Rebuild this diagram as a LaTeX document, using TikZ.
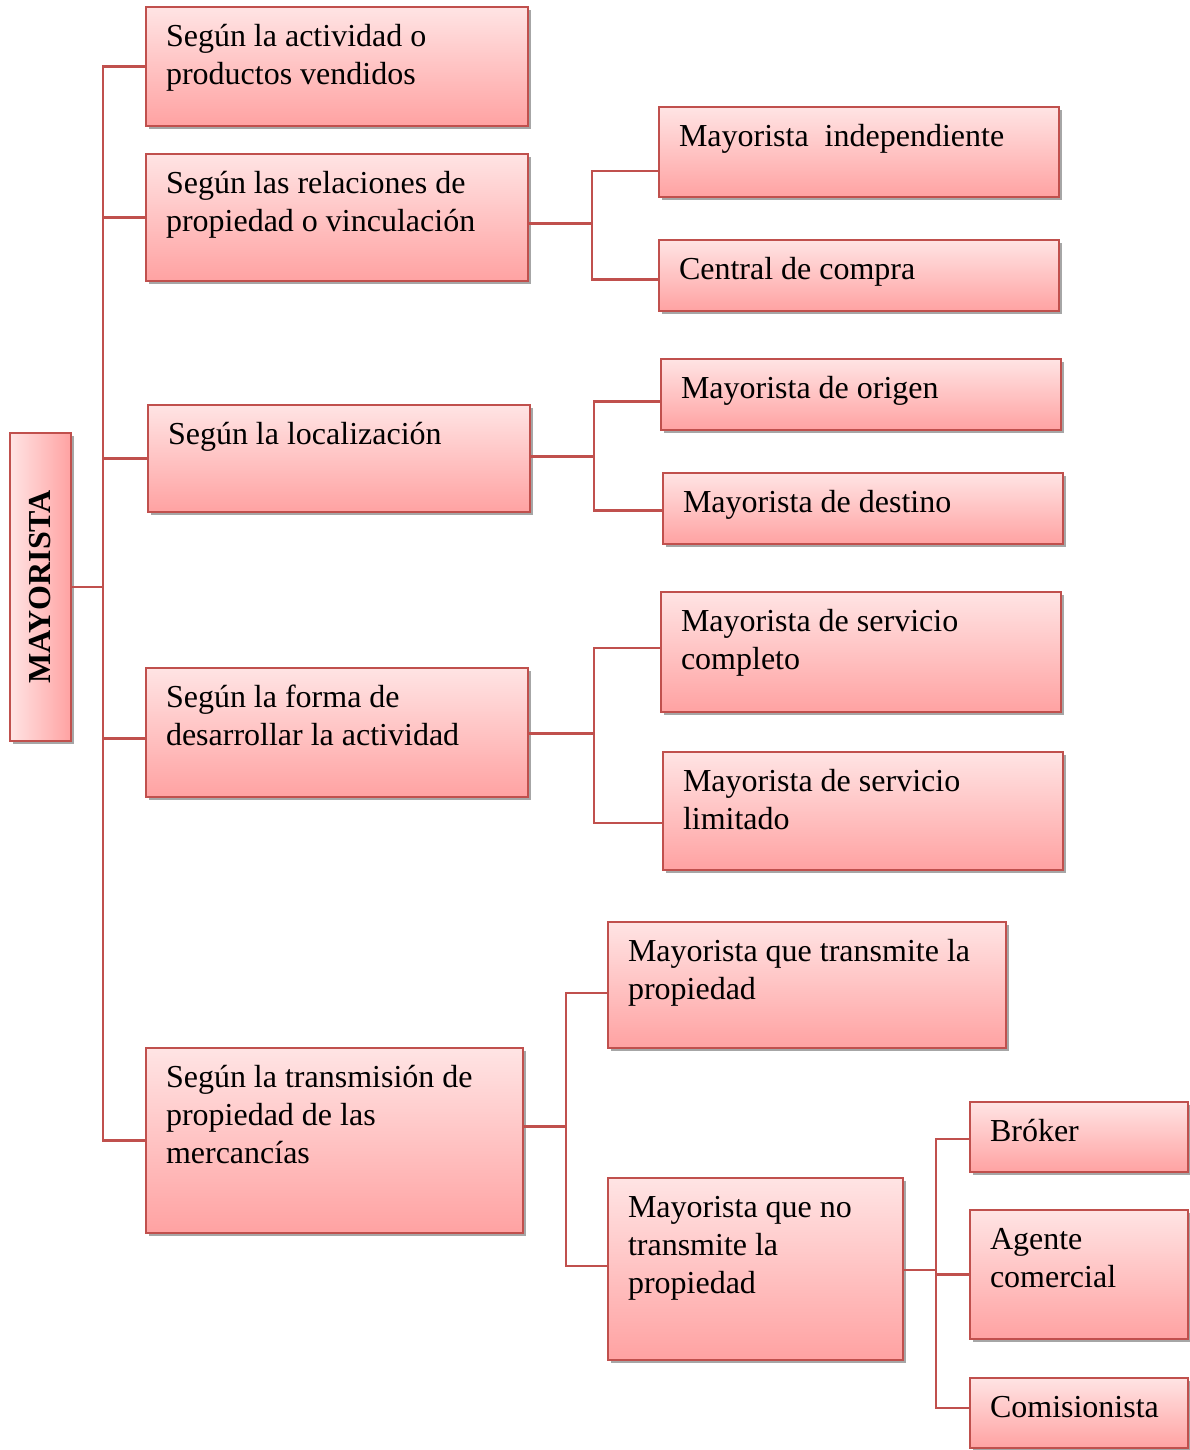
\documentclass[tikz,border=0pt]{standalone}
\usepackage{fontspec}
\setmainfont{Liberation Serif}
\usepackage{graphicx}
\usetikzlibrary{shadows}
\definecolor{bord}{HTML}{C0504D}
\definecolor{topc}{RGB}{255,228,228}
\definecolor{botc}{RGB}{255,162,162}
\newcommand\bxt[3]{\parbox[b][#2][t]{#1}{\fontsize{16}{19}\selectfont\leftskip=10pt\rightskip=0pt plus 1fil\vspace*{6.5pt}\strut #3}}
\tikzset{
  base/.style={draw=bord, line width=1pt, inner sep=0pt, anchor=north west,
    drop shadow={shadow xshift=1.3pt, shadow yshift=-1.5pt, fill=black, opacity=0.35}},
  box/.style={base, top color=topc, bottom color=botc},
  conn/.style={draw=bord, line width=1.1pt}
}
\begin{document}
\begin{tikzpicture}[x=0.5pt, y=-0.5pt]
\useasboundingbox (0,0) rectangle (1189,1450);
% root
\node[base, left color=topc, right color=botc, minimum width=30.5pt, minimum height=154pt] (M) at (9,432)
  {\rotatebox{90}{\fontsize{16}{19}\selectfont\bfseries MAYORISTA}};
% level 1
\node[box] (b1) at (145,6)    {\bxt{191pt}{59.5pt}{Según la actividad o\\productos vendidos}};
\node[box] (b2) at (145,153)  {\bxt{191pt}{63.5pt}{Según las relaciones de\\propiedad o vinculación}};
\node[box] (b3) at (147,404)  {\bxt{191pt}{53.5pt}{Según la localización}};
\node[box] (b4) at (145,667)  {\bxt{191pt}{64.5pt}{Según la forma de\\desarrollar la actividad}};
\node[box] (b5) at (145,1047) {\bxt{188.5pt}{92.5pt}{Según la transmisión de\\propiedad de las\\mercancías}};
% level 2
\node[box] (r1) at (658,106)  {\bxt{200pt}{45pt}{Mayorista\ \ independiente}};
\node[box] (r2) at (658,239)  {\bxt{200pt}{35.5pt}{Central de compra}};
\node[box] (r3) at (660,358)  {\bxt{200pt}{35.5pt}{Mayorista de origen}};
\node[box] (r4) at (662,472)  {\bxt{200pt}{35.5pt}{Mayorista de destino}};
\node[box] (r5) at (660,591)  {\bxt{200pt}{60pt}{Mayorista de servicio\\completo}};
\node[box] (r6) at (662,751)  {\bxt{200pt}{59pt}{Mayorista de servicio\\limitado}};
\node[box] (r7) at (607,921)  {\bxt{199pt}{63pt}{Mayorista que transmite la\\propiedad}};
\node[box] (r8) at (607,1177) {\bxt{147.5pt}{91pt}{Mayorista que no\\transmite la\\propiedad}};
% level 3
\node[box] (s1) at (969,1101) {\bxt{109pt}{35pt}{Bróker}};
\node[box] (s2) at (969,1209) {\bxt{109pt}{64.5pt}{Agente\\comercial}};
\node[box] (s3) at (969,1377) {\bxt{109pt}{35pt}{Comisionista}};
% connection points
\coordinate (v0) at (103,0);
\coordinate (v2) at (592,0);
\coordinate (v3) at (594,0);
\coordinate (v4) at (594,0);
\coordinate (v5) at (566,0);
\coordinate (v8) at (936,0);
\coordinate (pb4) at ([yshift=-3pt]b4.west);
\coordinate (qb2) at ([yshift=-3pt]b2.east);
\coordinate (pr1) at ([yshift=-9.5pt]r1.west);
\coordinate (pr2) at ([yshift=-2pt]r2.west);
\coordinate (qb3) at ([yshift=1pt]b3.east);
\coordinate (pr3) at ([yshift=-3.5pt]r3.west);
\coordinate (pr4) at ([yshift=-1pt]r4.west);
\coordinate (qb4) at ([yshift=-0.5pt]b4.east);
\coordinate (pr5) at ([yshift=2pt]r5.west);
\coordinate (pr6) at ([yshift=-6pt]r6.west);
\coordinate (qb5) at ([yshift=7pt]b5.east);
\coordinate (pr7) at ([yshift=-4pt]r7.west);
\coordinate (pr8) at ([yshift=1.5pt]r8.west);
\coordinate (qr8) at ([yshift=-0.5pt]r8.east);
\coordinate (ps1) at ([yshift=-1pt]s1.west);
\coordinate (ps3) at ([yshift=2.5pt]s3.west);
% connectors level 1
\draw[conn] (M.east) -- (M.east -| v0);
\draw[conn] (b1.west) -| (v0 |- b5.west) -- (b5.west);
\draw[conn] (b2.west) -- (b2.west -| v0);
\draw[conn] (b3.west) -- (b3.west -| v0);
\draw[conn] (pb4) -- (pb4 -| v0);
% connectors level 2
\draw[conn] (qb2) -- (qb2 -| v2);
\draw[conn] (pr1) -| (v2 |- pr2) -- (pr2);
\draw[conn] (qb3) -- (qb3 -| v3);
\draw[conn] (pr3) -| (v3 |- pr4) -- (pr4);
\draw[conn] (qb4) -- (qb4 -| v4);
\draw[conn] (pr5) -| (v4 |- pr6) -- (pr6);
\draw[conn] (qb5) -- (qb5 -| v5);
\draw[conn] (pr7) -| (v5 |- pr8) -- (pr8);
% connectors level 3
\draw[conn] (qr8) -- (qr8 -| v8);
\draw[conn] (ps1) -| (v8 |- ps3) -- (ps3);
\draw[conn] (s2.west) -- (s2.west -| v8);
\end{tikzpicture}
\end{document}
